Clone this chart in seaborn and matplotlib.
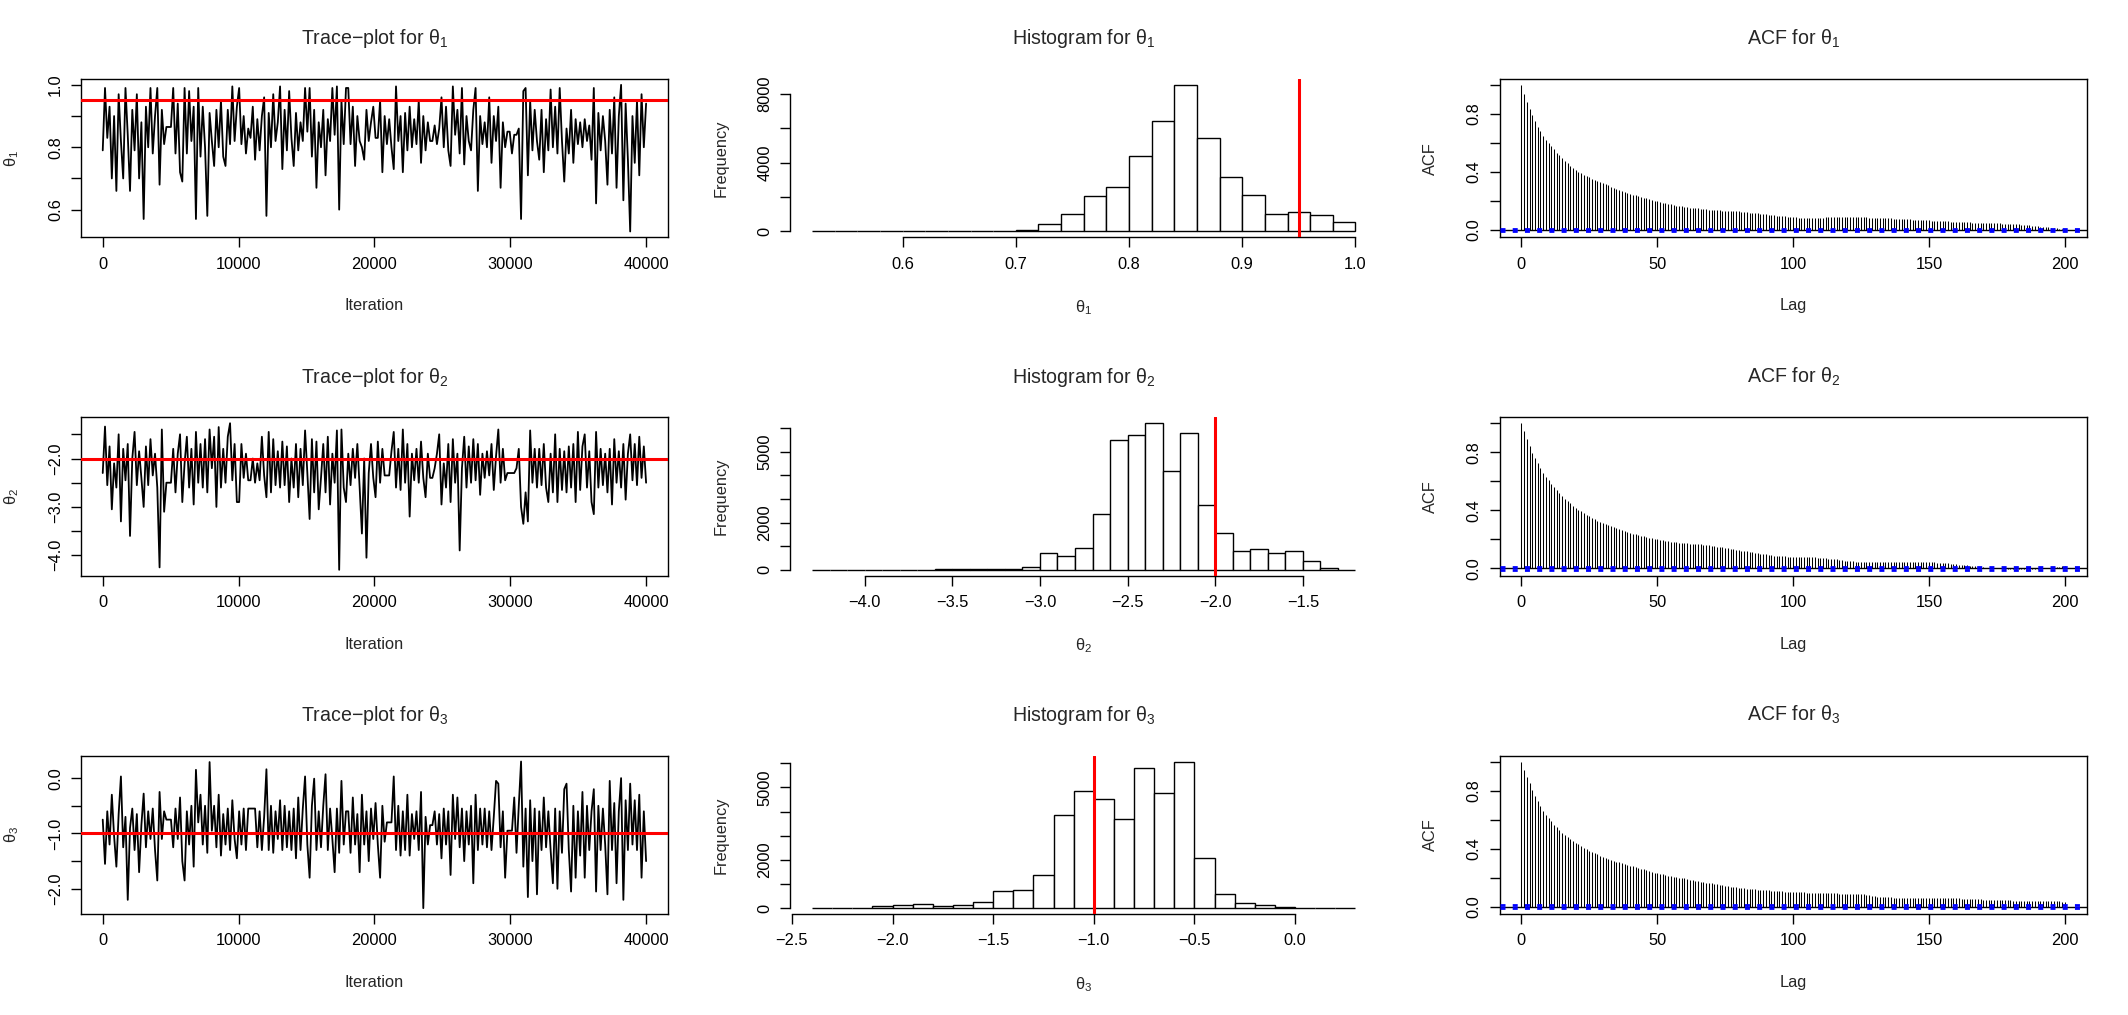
import numpy as np
import pandas as pd
import matplotlib
matplotlib.use("Agg")
import matplotlib.pyplot as plt
import matplotlib.transforms as mtransforms
import seaborn as sns

# ------------------------------------------------------------------ data
SUBSCRIPTS = ["1", "2", "3"]
TRUE_VALUES = [0.95, -2.0, -1.0]
N_ITER = 40000
ACF_CI = 0.0098

# trace values (~6 points per 1000 iterations)
TRACE_THETA1 = [
    0.79, 0.99, 0.83, 0.93, 0.70, 0.90,   0.66, 0.97, 0.82, 0.70, 0.99, 0.84,
    0.66, 0.92, 0.79, 0.97, 0.70, 0.88,   0.57, 0.93, 0.80, 0.99, 0.78, 0.90,
    0.99, 0.68, 0.92, 0.81, 0.865, 0.865, 0.865, 0.99, 0.78, 0.94, 0.72, 0.69,
    0.99, 0.78, 0.98, 0.82, 0.93, 0.57,   0.99, 0.77, 0.93, 0.80, 0.58, 0.91,
    0.82, 0.74, 0.92, 0.80, 0.95, 0.77,   0.74, 0.92, 0.81, 0.995, 0.82, 0.93,
    0.99, 0.81, 0.90, 0.78, 0.86, 0.83,   0.93, 0.76, 0.89, 0.79, 0.90, 0.96,
    0.58, 0.91, 0.80, 0.97, 0.82, 0.88,   0.995, 0.73, 0.92, 0.79, 0.98, 0.83,
    0.74, 0.91, 0.79, 0.88, 0.82, 0.99,   0.85, 0.99, 0.77, 0.92, 0.67, 0.88,
    0.80, 0.92, 0.71, 0.89, 0.82, 0.99,   0.84, 0.995, 0.60, 0.95, 0.81, 0.99,
    0.99, 0.81, 0.93, 0.74, 0.90, 0.82,   0.80, 0.76, 0.92, 0.82, 0.88, 0.93,
    0.83, 0.83, 0.95, 0.72, 0.90, 0.81,   0.89, 0.80, 0.73, 0.995, 0.82, 0.90,
    0.72, 0.91, 0.79, 0.93, 0.80, 0.89,   0.81, 0.95, 0.75, 0.90, 0.79, 0.88,
    0.82, 0.82, 0.87, 0.81, 0.86, 0.96,   0.80, 0.93, 0.79, 0.74, 0.995, 0.84,
    0.92, 0.78, 0.99, 0.745, 0.90, 0.82,  0.79, 0.92, 0.99, 0.66, 0.90, 0.81,
    0.88, 0.80, 0.96, 0.75, 0.90, 0.82,   0.93, 0.67, 0.88, 0.80, 0.85, 0.85,
    0.78, 0.84, 0.84, 0.86, 0.57, 0.98,   0.99, 0.71, 0.95, 0.79, 0.92, 0.82,
    0.76, 0.92, 0.72, 0.89, 0.79, 0.985,  0.80, 0.93, 0.78, 0.99, 0.82, 0.69,
    0.86, 0.78, 0.92, 0.75, 0.89, 0.81,   0.88, 0.80, 0.89, 0.82, 0.87, 0.76,
    0.99, 0.62, 0.91, 0.79, 0.90, 0.82,   0.68, 0.92, 0.78, 0.96, 0.67, 0.90,
    1.00, 0.63, 0.94, 0.76, 0.53, 0.90,   0.75, 0.95, 0.71, 0.97, 0.80, 0.94,
]
TRACE_THETA2 = [
    -2.30, -1.34, -2.55, -1.75, -3.05, -2.10,  -2.60, -1.50, -3.30, -1.80, -2.45, -1.70,
    -3.60, -2.00, -1.45, -2.55, -1.85, -2.40,  -3.00, -1.75, -2.55, -1.60, -2.35, -1.90,
    -2.60, -4.25, -1.40, -3.10, -2.50, -2.50,  -2.50, -1.80, -2.70, -1.90, -1.50, -2.90,
    -2.10, -1.55, -2.60, -1.80, -2.95, -1.45,  -2.50, -1.70, -2.60, -1.60, -2.70, -1.40,
    -2.20, -1.55, -3.00, -1.35, -2.60, -1.80,  -2.50, -1.55, -1.27, -2.45, -1.70, -2.90,
    -2.90, -1.70, -2.40, -1.90, -2.45, -2.45,  -2.00, -2.50, -2.10, -2.45, -1.55, -2.35,
    -2.80, -1.45, -2.70, -1.60, -2.55, -1.85,  -2.60, -1.65, -2.55, -1.75, -2.90, -2.00,
    -2.60, -1.70, -2.80, -1.80, -2.55, -1.42,  -2.30, -3.25, -1.60, -2.70, -1.65, -3.05,
    -2.40, -1.70, -2.70, -1.55, -2.95, -1.90,  -2.50, -1.42, -4.30, -1.40, -2.60, -2.90,
    -1.90, -2.55, -1.80, -2.40, -1.70, -2.60,  -3.55, -2.00, -4.05, -2.30, -1.70, -2.40,
    -2.80, -1.65, -2.50, -1.80, -2.35, -2.35,  -2.35, -1.85, -1.45, -2.60, -1.80, -2.65,
    -1.40, -2.50, -1.70, -3.20, -1.90, -2.45,  -1.80, -2.50, -1.65, -2.40, -2.80, -1.90,
    -2.40, -2.40, -2.20, -1.90, -1.50, -2.95,  -2.10, -2.60, -1.70, -2.90, -1.60, -2.50,
    -1.90, -3.90, -2.20, -1.55, -2.60, -1.75,  -2.50, -1.60, -2.45, -1.70, -2.75, -1.90,
    -2.40, -1.85, -2.35, -1.70, -2.65, -1.95,  -1.40, -2.50, -1.80, -2.45, -2.30, -2.30,
    -2.30, -2.30, -2.20, -1.80, -3.00, -3.35,  -2.70, -3.30, -1.42, -2.50, -1.80, -2.60,
    -1.80, -2.55, -1.70, -2.60, -2.90, -1.90,  -2.70, -1.50, -2.90, -1.80, -2.65, -1.85,
    -2.70, -1.75, -2.60, -1.70, -2.90, -1.45,  -2.65, -1.75, -1.50, -2.60, -1.85, -2.90,
    -3.15, -1.45, -2.60, -1.80, -2.55, -1.90,  -2.70, -1.80, -2.95, -1.60, -2.50, -1.85,
    -2.60, -1.70, -2.85, -1.90, -1.50, -2.45,  -1.70, -2.55, -1.55, -2.40, -1.75, -2.50,
]
TRACE_THETA3 = [
    -0.75, -1.55, -0.60, -1.20, -0.30, -1.05,  -1.60, -0.65, 0.03, -1.25, -0.70, -2.20,
    -0.90, -0.55, -1.30, -0.65, -1.70, -0.85,  -0.28, -1.25, -0.60, -1.10, -0.55, -1.30,
    -1.85, -0.25, -1.10, -0.60, -0.75, -0.75,  -0.75, -1.25, -0.55, -1.10, -0.35, -1.50,
    -1.85, -0.60, -1.20, -0.50, -1.60, 0.15,   -0.80, -0.30, -1.20, -0.50, -1.35, 0.29,
    -0.95, -0.50, -1.25, -0.30, -1.40, -0.65,  -1.20, -0.55, -1.30, -0.40, -1.10, -1.45,
    -0.60, -1.20, -0.55, -1.30, -0.55, -0.55,  -0.55, -0.55, -1.25, -0.60, -1.30, -0.70,
    0.16, -1.30, -0.50, -1.35, -0.60, -1.10,   -0.40, -1.30, -0.50, -1.25, -0.60, -1.30,
    -0.55, -1.45, -0.35, -1.30, -0.55, 0.03,   -1.20, -1.80, -0.50, -0.01, -1.30, -0.60,
    -1.25, -0.50, 0.07, -1.30, -0.55, -1.10,   -1.70, -0.55, -1.35, -0.05, -1.20, -0.60,
    -0.60, -1.35, -0.35, -1.20, -0.65, -1.70,  -0.30, -1.20, -0.60, -1.50, -0.55, -1.10,
    -0.45, -1.20, -1.80, -0.50, -1.15, -0.80,  -0.80, -0.80, 0.03, -1.30, -0.50, -1.40,
    -0.60, -1.30, -0.30, -1.40, -0.65, -1.10,  -0.60, -1.30, -0.25, -2.35, -0.70, -1.20,
    -0.85, -0.85, -0.60, -1.20, -0.65, -1.45,  -0.55, -1.20, -0.60, -1.75, -0.30, -1.10,
    -0.35, -1.25, -0.55, -1.50, -0.60, -1.20,  -0.50, -1.90, -0.30, -1.30, -0.55, -1.20,
    -0.55, -1.25, -0.60, -1.30, -0.70, -0.05,  -0.10, -1.25, -0.60, -1.80, -0.95, -0.95,
    -0.95, -0.35, -1.35, -0.50, 0.30, -1.60,   -0.55, -2.15, -0.40, -1.50, -0.55, -2.10,
    -0.60, -1.30, -0.35, -1.25, -0.60, -1.30,  -1.90, -0.55, -2.00, -0.60, -1.35, -0.20,
    -0.10, -1.30, -2.05, -0.50, -1.80, -0.60,  -1.40, -0.25, -1.80, -0.50, -1.30, -0.60,
    -0.20, -2.05, -0.50, -1.30, -0.55, -1.20,  -2.10, -0.05, -1.30, -0.45, -1.90, -0.60,
    0.00, -2.20, -0.40, -1.30, -0.10, -1.20,   -0.40, -1.30, -0.30, -1.80, -0.60, -1.50,
]

# histogram bin counts
HIST1_START, HIST1_WIDTH = 0.52, 0.02
HIST1_COUNTS = [20, 10, 30, 30, 10, 20, 10, 40, 30, 80, 412, 1022, 2083, 2574,
                4361, 6405, 8527, 5462, 3163, 2141, 1022, 1159, 982, 570]
HIST2_START, HIST2_WIDTH = -4.3, 0.1
HIST2_COUNTS = [8, 5, 5, 10, 5, 10, 10, 15, 25, 30, 40, 45, 128, 714, 586, 914,
                2343, 5486, 5714, 6200, 4171, 5800, 2757, 1571, 814, 871, 714,
                800, 371, 57, 10]
HIST3_START, HIST3_WIDTH = -2.4, 0.1
HIST3_COUNTS = [5, 15, 20, 70, 125, 180, 85, 110, 265, 726, 740, 1383, 3855,
                4846, 4539, 3701, 5796, 4763, 6075, 2067, 600, 210, 125, 40,
                20, 10, 5]

# autocorrelations, lags 0..200
ACF_THETA1 = [
    1.000, 0.940, 0.885, 0.835, 0.790, 0.750, 0.713, 0.679, 0.648, 0.623,
    0.600, 0.577, 0.555, 0.534, 0.514, 0.495, 0.477, 0.459, 0.442, 0.427,
    0.412, 0.401, 0.391, 0.381, 0.371, 0.362, 0.354, 0.346, 0.338, 0.330,
    0.323, 0.315, 0.307, 0.299, 0.292, 0.285, 0.278, 0.271, 0.264, 0.257,
    0.250, 0.244, 0.239, 0.233, 0.228, 0.223, 0.218, 0.213, 0.208, 0.203,
    0.198, 0.193, 0.188, 0.184, 0.180, 0.176, 0.172, 0.169, 0.166, 0.163,
    0.160, 0.157, 0.155, 0.153, 0.151, 0.149, 0.147, 0.145, 0.143, 0.141,
    0.139, 0.137, 0.136, 0.135, 0.134, 0.133, 0.132, 0.131, 0.130, 0.129,
    0.128, 0.126, 0.124, 0.122, 0.120, 0.118, 0.116, 0.114, 0.112, 0.110,
    0.108, 0.106, 0.104, 0.102, 0.100, 0.098, 0.096, 0.094, 0.092, 0.090,
    0.088, 0.087, 0.086, 0.085, 0.085, 0.084, 0.084, 0.084, 0.085, 0.085,
    0.086, 0.086, 0.087, 0.088, 0.089, 0.090, 0.090, 0.091, 0.091, 0.091,
    0.090, 0.090, 0.089, 0.089, 0.088, 0.088, 0.087, 0.087, 0.086, 0.086,
    0.085, 0.085, 0.084, 0.083, 0.082, 0.081, 0.080, 0.079, 0.078, 0.077,
    0.076, 0.075, 0.074, 0.073, 0.072, 0.071, 0.070, 0.069, 0.068, 0.067,
    0.066, 0.065, 0.064, 0.063, 0.062, 0.061, 0.060, 0.059, 0.058, 0.057,
    0.056, 0.055, 0.054, 0.053, 0.052, 0.052, 0.051, 0.051, 0.051, 0.051,
    0.051, 0.050, 0.050, 0.049, 0.048, 0.047, 0.046, 0.045, 0.044, 0.043,
    0.042, 0.041, 0.040, 0.039, 0.038, 0.036, 0.034, 0.032, 0.030, 0.028,
    0.026, 0.024, 0.022, 0.020, 0.018, 0.016, 0.014, 0.012, 0.010, 0.009,
    0.008,
]
ACF_THETA2 = [
    1.000, 0.945, 0.890, 0.840, 0.798, 0.760, 0.724, 0.691, 0.660, 0.632,
    0.606, 0.582, 0.559, 0.537, 0.517, 0.498, 0.480, 0.463, 0.447, 0.432,
    0.418, 0.405, 0.392, 0.380, 0.369, 0.358, 0.348, 0.338, 0.329, 0.320,
    0.312, 0.304, 0.296, 0.289, 0.282, 0.275, 0.269, 0.263, 0.257, 0.251,
    0.245, 0.240, 0.235, 0.230, 0.225, 0.220, 0.215, 0.211, 0.207, 0.203,
    0.199, 0.196, 0.193, 0.190, 0.187, 0.184, 0.182, 0.180, 0.178, 0.176,
    0.174, 0.172, 0.171, 0.170, 0.169, 0.168, 0.166, 0.164, 0.162, 0.159,
    0.156, 0.153, 0.150, 0.147, 0.144, 0.141, 0.138, 0.135, 0.132, 0.129,
    0.126, 0.123, 0.120, 0.117, 0.114, 0.111, 0.108, 0.105, 0.102, 0.099,
    0.096, 0.093, 0.090, 0.088, 0.086, 0.084, 0.083, 0.082, 0.081, 0.080,
    0.080, 0.079, 0.079, 0.078, 0.078, 0.077, 0.077, 0.076, 0.075, 0.074,
    0.073, 0.072, 0.070, 0.068, 0.066, 0.064, 0.062, 0.060, 0.057, 0.054,
    0.052, 0.050, 0.048, 0.047, 0.046, 0.045, 0.045, 0.045, 0.045, 0.045,
    0.045, 0.045, 0.045, 0.045, 0.045, 0.045, 0.046, 0.046, 0.046, 0.046,
    0.046, 0.046, 0.046, 0.046, 0.045, 0.045, 0.045, 0.044, 0.044, 0.043,
    0.043, 0.042, 0.041, 0.040, 0.039, 0.038, 0.036, 0.034, 0.032, 0.030,
    0.028, 0.026, 0.024, 0.022, 0.020, 0.018, 0.016, 0.014, 0.012, 0.010,
    0.008, 0.006, 0.005, 0.004, 0.003, 0.002, 0.001, 0.000, -0.001, -0.002,
    -0.002, -0.003, -0.003, -0.003, -0.003, -0.003, -0.003, -0.003, -0.002, -0.002,
    -0.001, 0.000, 0.001, 0.002, 0.004, 0.006, 0.008, 0.010, 0.012, 0.014,
    0.016,
]
ACF_THETA3 = [
    1.000, 0.945, 0.895, 0.850, 0.806, 0.765, 0.727, 0.693, 0.662, 0.634,
    0.609, 0.587, 0.566, 0.546, 0.527, 0.510, 0.494, 0.479, 0.465, 0.452,
    0.440, 0.429, 0.418, 0.407, 0.396, 0.386, 0.377, 0.368, 0.360, 0.352,
    0.345, 0.338, 0.331, 0.324, 0.317, 0.311, 0.305, 0.299, 0.293, 0.288,
    0.283, 0.278, 0.273, 0.268, 0.263, 0.258, 0.252, 0.246, 0.240, 0.235,
    0.230, 0.226, 0.222, 0.218, 0.214, 0.210, 0.207, 0.204, 0.201, 0.198,
    0.195, 0.191, 0.187, 0.183, 0.179, 0.175, 0.172, 0.169, 0.166, 0.163,
    0.160, 0.157, 0.154, 0.151, 0.148, 0.145, 0.142, 0.139, 0.136, 0.133,
    0.130, 0.128, 0.126, 0.124, 0.122, 0.120, 0.119, 0.118, 0.117, 0.116,
    0.115, 0.113, 0.111, 0.109, 0.108, 0.106, 0.105, 0.104, 0.102, 0.101,
    0.100, 0.099, 0.099, 0.098, 0.098, 0.097, 0.097, 0.096, 0.096, 0.095,
    0.095, 0.094, 0.094, 0.093, 0.093, 0.092, 0.092, 0.091, 0.091, 0.090,
    0.090, 0.089, 0.089, 0.088, 0.088, 0.087, 0.085, 0.082, 0.079, 0.076,
    0.073, 0.070, 0.068, 0.066, 0.065, 0.064, 0.064, 0.063, 0.063, 0.063,
    0.063, 0.063, 0.063, 0.062, 0.062, 0.062, 0.062, 0.062, 0.062, 0.062,
    0.062, 0.062, 0.062, 0.062, 0.062, 0.062, 0.061, 0.061, 0.060, 0.059,
    0.058, 0.057, 0.056, 0.055, 0.054, 0.053, 0.052, 0.051, 0.050, 0.050,
    0.049, 0.048, 0.047, 0.046, 0.046, 0.045, 0.045, 0.044, 0.044, 0.043,
    0.043, 0.042, 0.042, 0.042, 0.041, 0.041, 0.041, 0.041, 0.040, 0.040,
    0.040, 0.040, 0.039, 0.039, 0.038, 0.038, 0.037, 0.036, 0.036, 0.035,
    0.035,
]

# ticks (positions, labels shown)
TRACE_XTICKS = [0, 10000, 20000, 30000, 40000]
TRACE_YTICKS = [[0.6, 0.7, 0.8, 0.9, 1.0],
                [-4.0, -3.5, -3.0, -2.5, -2.0, -1.5],
                [-2.0, -1.5, -1.0, -0.5, 0.0]]
TRACE_YLABELS = [["0.6", "", "0.8", "", "1.0"],
                 ["−4.0", "", "−3.0", "", "−2.0", ""],
                 ["−2.0", "", "−1.0", "", "0.0"]]
HIST_XTICKS = [[0.6, 0.7, 0.8, 0.9, 1.0],
               [-4.0, -3.5, -3.0, -2.5, -2.0, -1.5],
               [-2.5, -2.0, -1.5, -1.0, -0.5, 0.0]]
HIST_XLABELS = [["0.6", "0.7", "0.8", "0.9", "1.0"],
                ["−4.0", "−3.5", "−3.0", "−2.5", "−2.0", "−1.5"],
                ["−2.5", "−2.0", "−1.5", "−1.0", "−0.5", "0.0"]]
HIST_YTICKS = [[0, 2000, 4000, 6000, 8000],
               [0, 1000, 2000, 3000, 4000, 5000, 6000],
               [0, 1000, 2000, 3000, 4000, 5000, 6000]]
HIST_YLABELS = [["0", "", "4000", "", "8000"],
                ["0", "", "2000", "", "", "5000", ""],
                ["0", "", "2000", "", "", "5000", ""]]
ACF_XTICKS = [0, 50, 100, 150, 200]
ACF_YTICKS = [0.0, 0.2, 0.4, 0.6, 0.8, 1.0]
ACF_YLABELS = ["0.0", "", "0.4", "", "0.8", ""]

TRACES = [TRACE_THETA1, TRACE_THETA2, TRACE_THETA3]
HISTS = [(HIST1_START, HIST1_WIDTH, HIST1_COUNTS),
         (HIST2_START, HIST2_WIDTH, HIST2_COUNTS),
         (HIST3_START, HIST3_WIDTH, HIST3_COUNTS)]
ACFS = [ACF_THETA1, ACF_THETA2, ACF_THETA3]

# ------------------------------------------------------------------ style
sns.set_style("ticks")
plt.rcParams["font.family"] = ["Liberation Sans", "DejaVu Sans"]
plt.rcParams["mathtext.fontset"] = "custom"
plt.rcParams["mathtext.rm"] = "Liberation Sans"
plt.rcParams["mathtext.it"] = "Liberation Sans:italic"
plt.rcParams["axes.unicode_minus"] = True

W, H, DPI = 2128, 1015, 100
FS = 11.8
FS_TITLE = 14.1

fig = plt.figure(figsize=(W / DPI, H / DPI), dpi=DPI, facecolor="white")

COL_W = W / 3.0
ROW_H = H / 3.0
ML, MR, MT, MB = 81, 41.5, 79, 101


def make_ax(r, c):
    left = c * COL_W + ML
    width = COL_W - ML - MR
    top = r * ROW_H + MT
    height = ROW_H - MT - MB
    bottom = H - (top + height)
    return fig.add_axes([left / W, bottom / H, width / W, height / H])


def px_offset(ax, dx, dy):
    return ax.transAxes + mtransforms.ScaledTranslation(dx / DPI, dy / DPI, fig.dpi_scale_trans)


def style(ax, title, xlabel, ylabel):
    ax.set_facecolor("white")
    for s in ax.spines.values():
        s.set_linewidth(1.0)
        s.set_color("black")
    ax.tick_params(direction="out", length=7, width=1.0, labelsize=FS, pad=7,
                   colors="black")
    ax.tick_params(axis="y", labelrotation=90, pad=6)
    for lab in ax.get_yticklabels():
        lab.set_verticalalignment("center")
    ax.set_title(title, fontsize=FS_TITLE, pad=25)
    ax.set_xlabel("")
    ax.set_ylabel("")
    ax.text(0.5, 0, xlabel, transform=px_offset(ax, 0, -61), ha="center",
            va="top", fontsize=FS)
    ax.text(0, 0.5, ylabel, transform=px_offset(ax, -69, 0), ha="center",
            va="center", rotation=90, fontsize=FS)
    ax.grid(False)


for i in range(3):
    sub = SUBSCRIPTS[i]
    theta = "θ$_{%s}$" % sub

    # ---------------- trace plot
    ax = make_ax(i, 0)
    vals = np.asarray(TRACES[i], dtype=float)
    iters = np.linspace(1, N_ITER, len(vals))
    df = pd.DataFrame({"Iteration": iters, "value": vals})
    sns.lineplot(data=df, x="Iteration", y="value", ax=ax, color="black",
                 linewidth=1.3, estimator=None, sort=False)
    ax.axhline(TRUE_VALUES[i], color="#ff0000", linewidth=2.2, zorder=3)
    ax.margins(x=0.04, y=0.04)
    ax.set_xticks(TRACE_XTICKS)
    ax.set_xticklabels([str(t) for t in TRACE_XTICKS])
    ax.set_yticks(TRACE_YTICKS[i])
    ax.set_yticklabels(TRACE_YLABELS[i])
    style(ax, "Trace−plot for " + theta, "Iteration", theta)

    # ---------------- histogram
    ax = make_ax(i, 1)
    start, width, counts = HISTS[i]
    counts = np.asarray(counts, dtype=float)
    edges = [float(v) for v in (start + width * np.arange(len(counts) + 1))]
    centers = [(edges[k] + edges[k + 1]) / 2 for k in range(len(counts))]
    hdf = pd.DataFrame({"x": centers, "w": counts})
    sns.histplot(data=hdf, x="x", weights="w", bins=edges, ax=ax,
                 color="white", edgecolor="black", linewidth=1.0, alpha=1.0)
    ax.use_sticky_edges = False
    ax.margins(x=0.04, y=0.04)
    ax.axvline(TRUE_VALUES[i], color="#ff0000", linewidth=2.2, zorder=3)
    ax.set_xticks(HIST_XTICKS[i])
    ax.set_xticklabels(HIST_XLABELS[i])
    ax.set_yticks(HIST_YTICKS[i])
    ax.set_yticklabels(HIST_YLABELS[i])
    style(ax, "Histogram for " + theta, theta, "Frequency")
    ax.spines["top"].set_visible(False)
    ax.spines["right"].set_visible(False)
    ax.spines["bottom"].set_bounds(HIST_XTICKS[i][0], HIST_XTICKS[i][-1])
    ax.spines["left"].set_bounds(HIST_YTICKS[i][0], HIST_YTICKS[i][-1])

    # ---------------- ACF
    ax = make_ax(i, 2)
    acf = np.asarray(ACFS[i], dtype=float)
    lags = np.arange(len(acf))
    ax.vlines(lags, 0, acf, color="black", linewidth=0.75)
    ax.axhline(0, color="black", linewidth=1.0)
    for s in (1, -1):
        ax.axhline(s * ACF_CI, color="#0000ff", linewidth=2.0,
                   linestyle=(0, (1.8, 2.6)), zorder=4)
    ax.margins(x=0.04, y=0.04)
    ax.set_xticks(ACF_XTICKS)
    ax.set_xticklabels([str(t) for t in ACF_XTICKS])
    ax.set_yticks(ACF_YTICKS)
    ax.set_yticklabels(ACF_YLABELS)
    style(ax, "ACF for " + theta, "Lag", "ACF")

fig.savefig("out.png", dpi=DPI, facecolor="white")
